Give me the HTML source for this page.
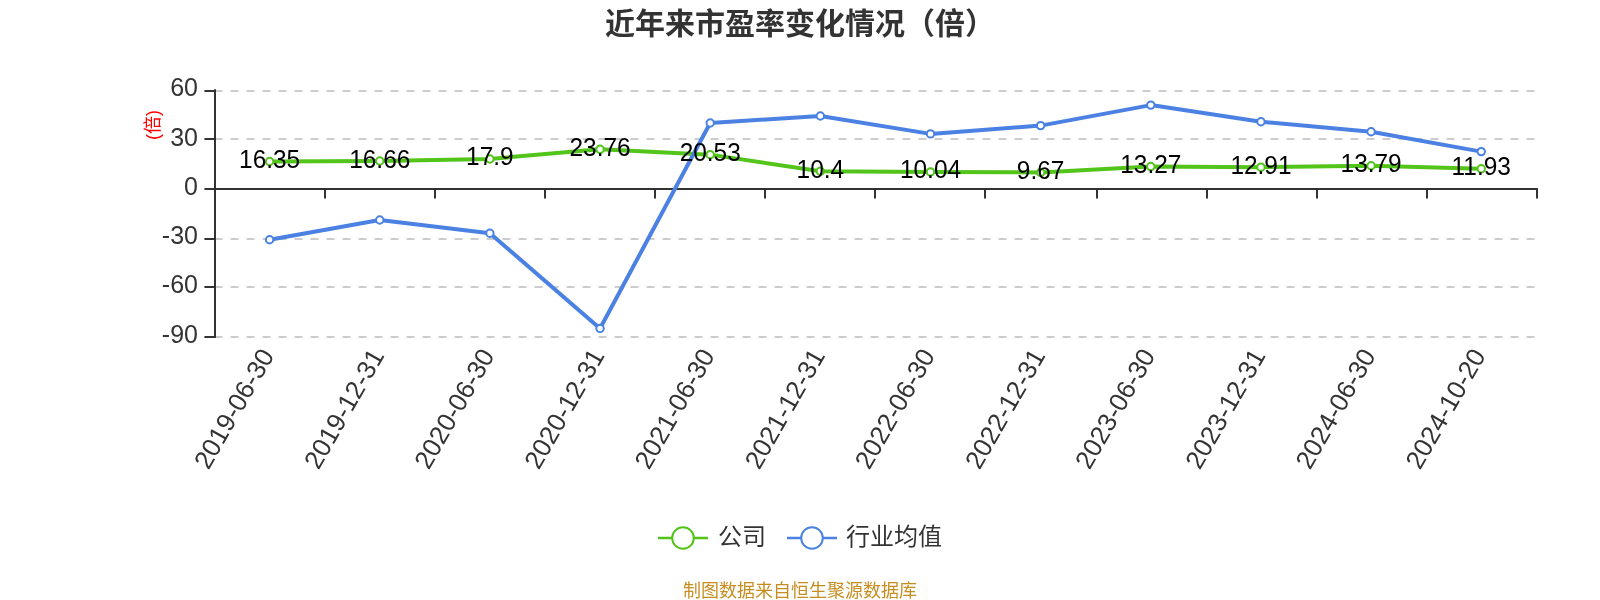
<!DOCTYPE html>
<html><head><meta charset="utf-8"><title>近年来市盈率变化情况</title>
<style>
html,body{margin:0;padding:0;background:#fff;}
body{width:1600px;height:600px;overflow:hidden;}
svg{display:block;will-change:transform;font-family:"Liberation Sans", "Noto Sans CJK SC", sans-serif;}
</style></head><body>
<svg width="1600" height="600" viewBox="0 0 1600 600">
<rect width="1600" height="600" fill="#fff"/>
<line x1="214.5" y1="91" x2="1537" y2="91" stroke="#ccc" stroke-width="2" stroke-dasharray="8 8"/>
<line x1="214.5" y1="139" x2="1537" y2="139" stroke="#ccc" stroke-width="2" stroke-dasharray="8 8"/>
<line x1="214.5" y1="239" x2="1537" y2="239" stroke="#ccc" stroke-width="2" stroke-dasharray="8 8"/>
<line x1="214.5" y1="287" x2="1537" y2="287" stroke="#ccc" stroke-width="2" stroke-dasharray="8 8"/>
<line x1="214.5" y1="337" x2="1537" y2="337" stroke="#ccc" stroke-width="2" stroke-dasharray="8 8"/>
<line x1="215" y1="90" x2="215" y2="337" stroke="#333" stroke-width="2" stroke-linecap="round"/>
<line x1="205.2" y1="91" x2="215" y2="91" stroke="#333" stroke-width="2" stroke-linecap="round"/>
<line x1="205.2" y1="139" x2="215" y2="139" stroke="#333" stroke-width="2" stroke-linecap="round"/>
<line x1="205.2" y1="239" x2="215" y2="239" stroke="#333" stroke-width="2" stroke-linecap="round"/>
<line x1="205.2" y1="287" x2="215" y2="287" stroke="#333" stroke-width="2" stroke-linecap="round"/>
<line x1="205.2" y1="337" x2="215" y2="337" stroke="#333" stroke-width="2" stroke-linecap="round"/>
<line x1="205.2" y1="189" x2="215" y2="189" stroke="#333" stroke-width="2" stroke-linecap="round"/>
<line x1="215" y1="189" x2="1537" y2="189" stroke="#333" stroke-width="2" stroke-linecap="round"/>
<line x1="215" y1="189" x2="215" y2="197.8" stroke="#333" stroke-width="2" stroke-linecap="round"/>
<line x1="325" y1="189" x2="325" y2="197.8" stroke="#333" stroke-width="2" stroke-linecap="round"/>
<line x1="435" y1="189" x2="435" y2="197.8" stroke="#333" stroke-width="2" stroke-linecap="round"/>
<line x1="545" y1="189" x2="545" y2="197.8" stroke="#333" stroke-width="2" stroke-linecap="round"/>
<line x1="655" y1="189" x2="655" y2="197.8" stroke="#333" stroke-width="2" stroke-linecap="round"/>
<line x1="765" y1="189" x2="765" y2="197.8" stroke="#333" stroke-width="2" stroke-linecap="round"/>
<line x1="875" y1="189" x2="875" y2="197.8" stroke="#333" stroke-width="2" stroke-linecap="round"/>
<line x1="985" y1="189" x2="985" y2="197.8" stroke="#333" stroke-width="2" stroke-linecap="round"/>
<line x1="1097" y1="189" x2="1097" y2="197.8" stroke="#333" stroke-width="2" stroke-linecap="round"/>
<line x1="1207" y1="189" x2="1207" y2="197.8" stroke="#333" stroke-width="2" stroke-linecap="round"/>
<line x1="1317" y1="189" x2="1317" y2="197.8" stroke="#333" stroke-width="2" stroke-linecap="round"/>
<line x1="1427" y1="189" x2="1427" y2="197.8" stroke="#333" stroke-width="2" stroke-linecap="round"/>
<line x1="1537" y1="189" x2="1537" y2="197.8" stroke="#333" stroke-width="2" stroke-linecap="round"/>
<text x="198" y="95.75" text-anchor="end" font-size="25" fill="#333">60</text>
<text x="198" y="146" text-anchor="end" font-size="25" fill="#333">30</text>
<text x="198" y="195" text-anchor="end" font-size="25" fill="#333">0</text>
<text x="198" y="244" text-anchor="end" font-size="25" fill="#333">-30</text>
<text x="198" y="292.9" text-anchor="end" font-size="25" fill="#333">-60</text>
<text x="198" y="343" text-anchor="end" font-size="25" fill="#333">-90</text>
<text transform="translate(158.5,125) rotate(-90)" text-anchor="middle" font-size="18" fill="#f00">(倍)</text>
<polyline points="269.60,161.50 379.75,160.99 489.90,158.95 600.05,149.31 710.20,154.63 820.35,171.29 930.50,171.88 1040.65,172.49 1150.80,166.57 1260.95,167.16 1371.10,165.72 1481.25,168.78" fill="none" stroke="#52c41a" stroke-width="4" stroke-linejoin="round"/>
<polyline points="269.60,239.70 379.75,220.00 489.90,233.20 600.05,328.50 710.20,123.00 820.35,116.00 930.50,133.90 1040.65,125.60 1150.80,105.10 1260.95,121.70 1371.10,131.80 1481.25,151.60" fill="none" stroke="#4a81e3" stroke-width="4" stroke-linejoin="round"/>
<circle cx="269.60" cy="161.50" r="3.7" fill="#fff" stroke="#52c41a" stroke-width="2"/>
<circle cx="379.75" cy="160.99" r="3.7" fill="#fff" stroke="#52c41a" stroke-width="2"/>
<circle cx="489.90" cy="158.95" r="3.7" fill="#fff" stroke="#52c41a" stroke-width="2"/>
<circle cx="600.05" cy="149.31" r="3.7" fill="#fff" stroke="#52c41a" stroke-width="2"/>
<circle cx="710.20" cy="154.63" r="3.7" fill="#fff" stroke="#52c41a" stroke-width="2"/>
<circle cx="820.35" cy="171.29" r="3.7" fill="#fff" stroke="#52c41a" stroke-width="2"/>
<circle cx="930.50" cy="171.88" r="3.7" fill="#fff" stroke="#52c41a" stroke-width="2"/>
<circle cx="1040.65" cy="172.49" r="3.7" fill="#fff" stroke="#52c41a" stroke-width="2"/>
<circle cx="1150.80" cy="166.57" r="3.7" fill="#fff" stroke="#52c41a" stroke-width="2"/>
<circle cx="1260.95" cy="167.16" r="3.7" fill="#fff" stroke="#52c41a" stroke-width="2"/>
<circle cx="1371.10" cy="165.72" r="3.7" fill="#fff" stroke="#52c41a" stroke-width="2"/>
<circle cx="1481.25" cy="168.78" r="3.7" fill="#fff" stroke="#52c41a" stroke-width="2"/>
<circle cx="269.60" cy="239.70" r="3.7" fill="#fff" stroke="#4a81e3" stroke-width="2"/>
<circle cx="379.75" cy="220.00" r="3.7" fill="#fff" stroke="#4a81e3" stroke-width="2"/>
<circle cx="489.90" cy="233.20" r="3.7" fill="#fff" stroke="#4a81e3" stroke-width="2"/>
<circle cx="600.05" cy="328.50" r="3.7" fill="#fff" stroke="#4a81e3" stroke-width="2"/>
<circle cx="710.20" cy="123.00" r="3.7" fill="#fff" stroke="#4a81e3" stroke-width="2"/>
<circle cx="820.35" cy="116.00" r="3.7" fill="#fff" stroke="#4a81e3" stroke-width="2"/>
<circle cx="930.50" cy="133.90" r="3.7" fill="#fff" stroke="#4a81e3" stroke-width="2"/>
<circle cx="1040.65" cy="125.60" r="3.7" fill="#fff" stroke="#4a81e3" stroke-width="2"/>
<circle cx="1150.80" cy="105.10" r="3.7" fill="#fff" stroke="#4a81e3" stroke-width="2"/>
<circle cx="1260.95" cy="121.70" r="3.7" fill="#fff" stroke="#4a81e3" stroke-width="2"/>
<circle cx="1371.10" cy="131.80" r="3.7" fill="#fff" stroke="#4a81e3" stroke-width="2"/>
<circle cx="1481.25" cy="151.60" r="3.7" fill="#fff" stroke="#4a81e3" stroke-width="2"/>
<text transform="translate(269.60,168.20) scale(0.94,1)" text-anchor="middle" font-size="26" fill="#000">16.35</text>
<text transform="translate(379.75,167.69) scale(0.94,1)" text-anchor="middle" font-size="26" fill="#000">16.66</text>
<text transform="translate(489.90,164.65) scale(0.94,1)" text-anchor="middle" font-size="26" fill="#000">17.9</text>
<text transform="translate(600.05,156.01) scale(0.94,1)" text-anchor="middle" font-size="26" fill="#000">23.76</text>
<text transform="translate(710.20,161.33) scale(0.94,1)" text-anchor="middle" font-size="26" fill="#000">20.53</text>
<text transform="translate(820.35,177.99) scale(0.94,1)" text-anchor="middle" font-size="26" fill="#000">10.4</text>
<text transform="translate(930.50,177.58) scale(0.94,1)" text-anchor="middle" font-size="26" fill="#000">10.04</text>
<text transform="translate(1040.65,179.19) scale(0.94,1)" text-anchor="middle" font-size="26" fill="#000">9.67</text>
<text transform="translate(1150.80,173.27) scale(0.94,1)" text-anchor="middle" font-size="26" fill="#000">13.27</text>
<text transform="translate(1260.95,173.86) scale(0.94,1)" text-anchor="middle" font-size="26" fill="#000">12.91</text>
<text transform="translate(1371.10,172.42) scale(0.94,1)" text-anchor="middle" font-size="26" fill="#000">13.79</text>
<text transform="translate(1481.25,175.48) scale(0.94,1)" text-anchor="middle" font-size="26" fill="#000">11.93</text>
<text transform="translate(267.10,351) rotate(-60)" text-anchor="end" dominant-baseline="central" font-size="26" fill="#333">2019-06-30</text>
<text transform="translate(377.25,351) rotate(-60)" text-anchor="end" dominant-baseline="central" font-size="26" fill="#333">2019-12-31</text>
<text transform="translate(487.40,351) rotate(-60)" text-anchor="end" dominant-baseline="central" font-size="26" fill="#333">2020-06-30</text>
<text transform="translate(597.55,351) rotate(-60)" text-anchor="end" dominant-baseline="central" font-size="26" fill="#333">2020-12-31</text>
<text transform="translate(707.70,351) rotate(-60)" text-anchor="end" dominant-baseline="central" font-size="26" fill="#333">2021-06-30</text>
<text transform="translate(817.85,351) rotate(-60)" text-anchor="end" dominant-baseline="central" font-size="26" fill="#333">2021-12-31</text>
<text transform="translate(928.00,351) rotate(-60)" text-anchor="end" dominant-baseline="central" font-size="26" fill="#333">2022-06-30</text>
<text transform="translate(1038.15,351) rotate(-60)" text-anchor="end" dominant-baseline="central" font-size="26" fill="#333">2022-12-31</text>
<text transform="translate(1148.30,351) rotate(-60)" text-anchor="end" dominant-baseline="central" font-size="26" fill="#333">2023-06-30</text>
<text transform="translate(1258.45,351) rotate(-60)" text-anchor="end" dominant-baseline="central" font-size="26" fill="#333">2023-12-31</text>
<text transform="translate(1368.60,351) rotate(-60)" text-anchor="end" dominant-baseline="central" font-size="26" fill="#333">2024-06-30</text>
<text transform="translate(1478.75,351) rotate(-60)" text-anchor="end" dominant-baseline="central" font-size="26" fill="#333">2024-10-20</text>
<line x1="658" y1="538" x2="708" y2="538" stroke="#52c41a" stroke-width="2.4"/>
<circle cx="683" cy="538" r="10.8" fill="#fff" stroke="#52c41a" stroke-width="2"/>
<text x="718" y="545" font-size="24" fill="#333">公司</text>
<line x1="787" y1="538" x2="837" y2="538" stroke="#4a81e3" stroke-width="2.4"/>
<circle cx="812" cy="538" r="10.8" fill="#fff" stroke="#4a81e3" stroke-width="2"/>
<text x="846" y="545" font-size="24" fill="#333">行业均值</text>
<text x="800" y="33.8" text-anchor="middle" font-size="30" font-weight="bold" fill="#333">近年来市盈率变化情况（倍）</text>
<text x="800" y="597" text-anchor="middle" font-size="18" fill="#c68e20">制图数据来自恒生聚源数据库</text>
</svg>
</body></html>
